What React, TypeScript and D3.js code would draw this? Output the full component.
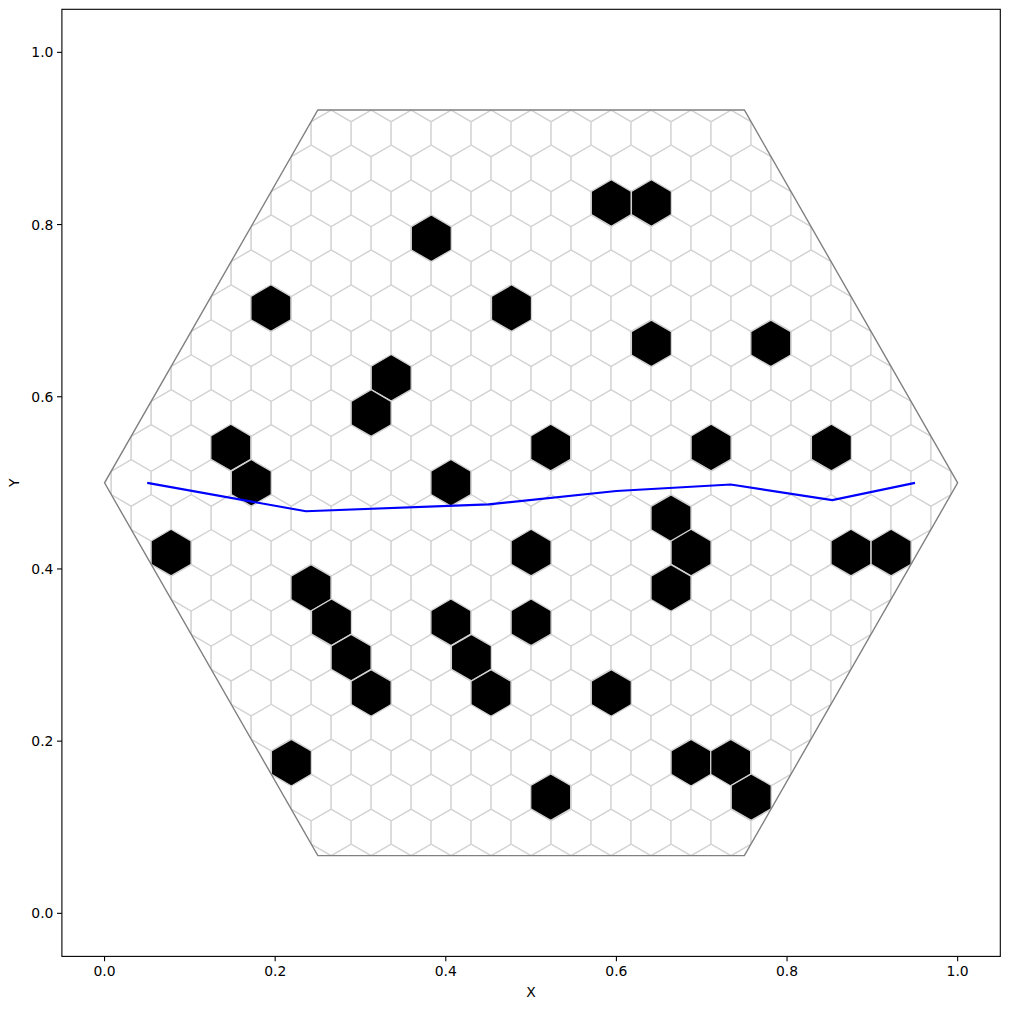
import React from "react";
import * as d3 from "d3";

// Filled (black) cells: centers in data coordinates
const blackX = [0.594, 0.641, 0.383, 0.195, 0.477, 0.641, 0.781, 0.336, 0.3125, 0.148, 0.523, 0.711, 0.852, 0.172, 0.406, 0.664, 0.078, 0.5, 0.6875, 0.875, 0.922, 0.242, 0.664, 0.266, 0.406, 0.5, 0.289, 0.43, 0.3125, 0.453, 0.594, 0.219, 0.6875, 0.734, 0.758, 0.523];
const blackY = [0.825, 0.825, 0.784, 0.703, 0.703, 0.662, 0.662, 0.622, 0.581, 0.541, 0.541, 0.541, 0.541, 0.5, 0.5, 0.459, 0.419, 0.419, 0.419, 0.419, 0.419, 0.378, 0.378, 0.338, 0.338, 0.338, 0.297, 0.297, 0.256, 0.256, 0.256, 0.175, 0.175, 0.175, 0.135, 0.135];

// Blue path
const lineX = [0.05, 0.236, 0.45, 0.6, 0.734, 0.853, 0.95];
const lineY = [0.5, 0.467, 0.475, 0.4905, 0.498, 0.48, 0.5];

const tickValues = [0, 0.2, 0.4, 0.6, 0.8, 1.0];

const W = 1009;
const H = 1009;
const left = 61.9;
const right = 1000.3;
const top = 9.3;
const bottom = 956.4;

export default function App() {
  const x = d3.scaleLinear().domain([-0.05, 1.05]).range([left, right]);
  const y = d3.scaleLinear().domain([-0.05, 1.05]).range([bottom, top]);

  // hex lattice: pointy-top cells, tiling the big flat-top hexagon (center 0.5,0.5 radius 0.5)
  const R = 0.5;
  const r = Math.sqrt(3) / 64;
  const w = Math.sqrt(3) * r;
  const dy = 1.5 * r;
  const cellPath = (cx: number, cy: number) => {
    const pts: [number, number][] = [];
    for (let i = 0; i < 6; i++) {
      const a = ((90 + 60 * i) * Math.PI) / 180;
      pts.push([x(cx + r * Math.cos(a)), y(cy + r * Math.sin(a))]);
    }
    return "M" + pts.map((p) => p.join(",")).join("L") + "Z";
  };
  const cells: string[] = [];
  for (let k = -11; k <= 11; k++) {
    const off = Math.abs(k) % 2 === 1 ? 0.5 : 0;
    for (let j = -12; j <= 12; j++) {
      const cx = 0.5 + (j + off) * w;
      const cy = 0.5 + k * dy;
      cells.push(cellPath(cx, cy));
    }
  }
  const bigPts: [number, number][] = [];
  for (let i = 0; i < 6; i++) {
    const a = (60 * i * Math.PI) / 180;
    bigPts.push([x(0.5 + R * Math.cos(a)), y(0.5 + R * Math.sin(a))]);
  }
  const bigPath = "M" + bigPts.map((p) => p.join(",")).join("L") + "Z";

  const line = d3
    .line<number>()
    .x((_, i) => x(lineX[i]))
    .y((_, i) => y(lineY[i]));

  const font = "DejaVu Sans, sans-serif";

  return (
    <svg width={W} height={H} style={{ position: "absolute", left: 0, top: 0, background: "#fff" }}>
      <defs>
        <clipPath id="bigclip">
          <path d={bigPath} />
        </clipPath>
      </defs>
      <rect x={0} y={0} width={W} height={H} fill="#fff" />
      <g clipPath="url(#bigclip)">
        {cells.map((d, i) => (
          <path key={i} d={d} fill="#fff" stroke="#d3d3d3" strokeWidth={1.3} />
        ))}
        {blackX.map((bx, i) => (
          <path key={"b" + i} d={cellPath(bx, blackY[i])} fill="#000" stroke="#d3d3d3" strokeWidth={1.3} />
        ))}
      </g>
      <path d={bigPath} fill="none" stroke="#808080" strokeWidth={1.4} />
      <path d={line(lineX) || ""} fill="none" stroke="#0000ff" strokeWidth={2.1} />

      {/* axes frame */}
      <rect x={left} y={top} width={right - left} height={bottom - top} fill="none" stroke="#000" strokeWidth={1.1} />
      {tickValues.map((t) => (
        <g key={"x" + t}>
          <line x1={x(t)} x2={x(t)} y1={bottom} y2={bottom + 4.9} stroke="#000" strokeWidth={1.1} />
          <text x={x(t)} y={bottom + 9} textAnchor="middle" dominantBaseline="hanging" fontFamily={font} fontSize={13.9} fill="#000">
            {t.toFixed(1)}
          </text>
        </g>
      ))}
      {tickValues.map((t) => (
        <g key={"y" + t}>
          <line x1={left - 4.9} x2={left} y1={y(t)} y2={y(t)} stroke="#000" strokeWidth={1.1} />
          <text x={left - 8.5} y={y(t)} textAnchor="end" dominantBaseline="central" fontFamily={font} fontSize={13.9} fill="#000">
            {t.toFixed(1)}
          </text>
        </g>
      ))}
      <text x={(left + right) / 2} y={992} textAnchor="middle" dominantBaseline="central" fontFamily={font} fontSize={13.9} fill="#000">
        X
      </text>
      <text
        x={14}
        y={(top + bottom) / 2}
        textAnchor="middle"
        dominantBaseline="central"
        fontFamily={font}
        fontSize={13.9}
        fill="#000"
        transform={`rotate(-90, 14, ${(top + bottom) / 2})`}
      >
        Y
      </text>
    </svg>
  );
}
